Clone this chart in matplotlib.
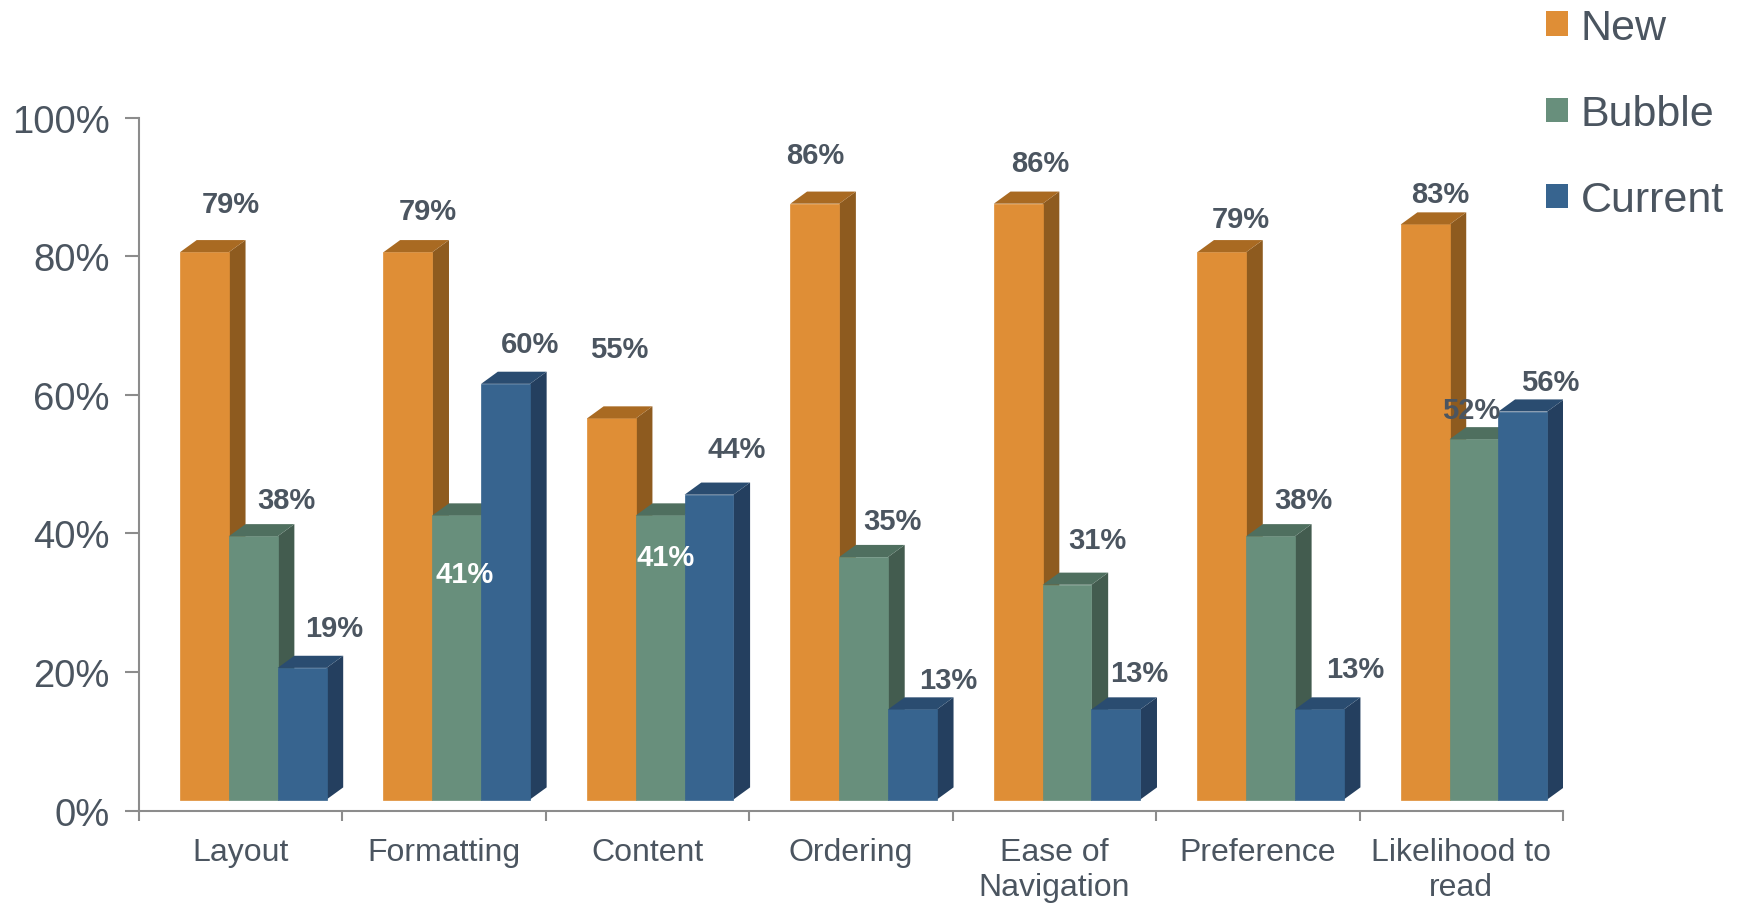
import numpy as np
import matplotlib
matplotlib.use("Agg")
import matplotlib.pyplot as plt
from matplotlib.patches import Polygon, Patch

plt.rcParams['font.family'] = ['Liberation Sans', 'DejaVu Sans']

categories = ['Layout', 'Formatting', 'Content', 'Ordering',
              'Ease of\nNavigation', 'Preference', 'Likelihood to\nread']
new = [79, 79, 55, 86, 86, 79, 83]
bubble = [38, 41, 41, 35, 31, 38, 52]
current = [19, 60, 44, 13, 13, 13, 56]
series_names = ['New', 'Bubble', 'Current']

# front / side / top shades for each series
shades = [('#DF8E36', '#8E5B1F', '#A96A22'),
          ('#688F7C', '#435C4F', '#4F6F5F'),
          ('#37648F', '#243F5F', '#2A4C70')]

# label offsets (points) from the top centre of each front face
label_off = [
    [(19, 35), (14, 30), (6, 50), (0, 35), (16, 29), (14, 24), (11, 22)],
    [(24, 26), (6, -42), (4, -30), (21, 26), (22, 32), (24, 26), (-2, 21)],
    [(23, 29), (18, 29), (20, 33), (26, 21), (17, 26), (26, 29), (20, 21)],
]
white_labels = {(1, 1), (1, 2)}

text_col = '#4B5560'
axis_col = '#8C8C8C'

W = 0.24      # bar width in category units
DX = 0.082    # depth, x
DY = 1.75     # depth, y (percent)
BASE = 1.6    # floor lift of the front faces

fig = plt.figure(figsize=(17.41, 9.04), dpi=100)
ax = fig.add_axes([0.0798, 0.1022, 0.818, 0.7664])

x = np.arange(len(categories))
for s, vals in enumerate([new, bubble, current]):
    front, side, top = shades[s]
    left = x - 0.298 + s * W
    bars = ax.bar(left, vals, W, bottom=BASE, align='edge', color=front,
                  edgecolor=front, linewidth=0.5, zorder=3 + s)
    for b, v in zip(bars, vals):
        x0 = b.get_x()
        x1 = x0 + b.get_width()
        y0 = b.get_y()
        y1 = y0 + b.get_height()
        ax.add_patch(Polygon([(x1, y0), (x1 + DX, y0 + DY), (x1 + DX, y1 + DY), (x1, y1)],
                             closed=True, facecolor=side, edgecolor='none', zorder=2 + s))
        ax.add_patch(Polygon([(x0, y1), (x1, y1), (x1 + DX, y1 + DY), (x0 + DX, y1 + DY)],
                             closed=True, facecolor=top, edgecolor='none', zorder=3 + s))
    for i, (b, v) in enumerate(zip(bars, vals)):
        cx = b.get_x() + b.get_width() / 2
        cy = b.get_y() + b.get_height()
        col = 'white' if (s, i) in white_labels else text_col
        ax.annotate(f'{v}%', (cx, cy), xytext=label_off[s][i], textcoords='offset points',
                    ha='center', va='center', fontsize=21, fontweight='bold',
                    color=col, zorder=10, annotation_clip=False)

ax.set_xlim(-0.5, len(categories) - 0.5)
ax.set_ylim(0, 100)
ax.set_yticks(np.arange(0, 101, 20))
ax.set_yticklabels([f'{t}%' for t in range(0, 101, 20)])
ax.tick_params(axis='y', length=10, width=1.5, color=axis_col, labelsize=27.5,
               labelcolor=text_col, pad=11)
ax.set_xticks(np.arange(-0.5, len(categories), 1.0))
ax.set_xticklabels([])
ax.tick_params(axis='x', length=7, width=1.5, color=axis_col)
for i, c in enumerate(categories):
    ax.annotate(c, (i, 0), xytext=(0, -19), textcoords='offset points',
                ha='center', va='top', fontsize=23, color=text_col,
                linespacing=1.22, annotation_clip=False)

for side_name in ['top', 'right']:
    ax.spines[side_name].set_visible(False)
for side_name in ['left', 'bottom']:
    ax.spines[side_name].set_color(axis_col)
    ax.spines[side_name].set_linewidth(1.5)

handles = [Patch(facecolor=shades[k][0], edgecolor='none') for k in range(3)]
leg = fig.legend(handles, series_names, loc='upper left',
                 bbox_to_anchor=(0.888, 0.99), frameon=False, fontsize=31,
                 handlelength=0.5, handleheight=0.5, handletextpad=0.3,
                 labelspacing=1.07, borderpad=0.0, borderaxespad=0.0)
for t in leg.get_texts():
    t.set_color(text_col)

fig.savefig('out.png', dpi=100)
